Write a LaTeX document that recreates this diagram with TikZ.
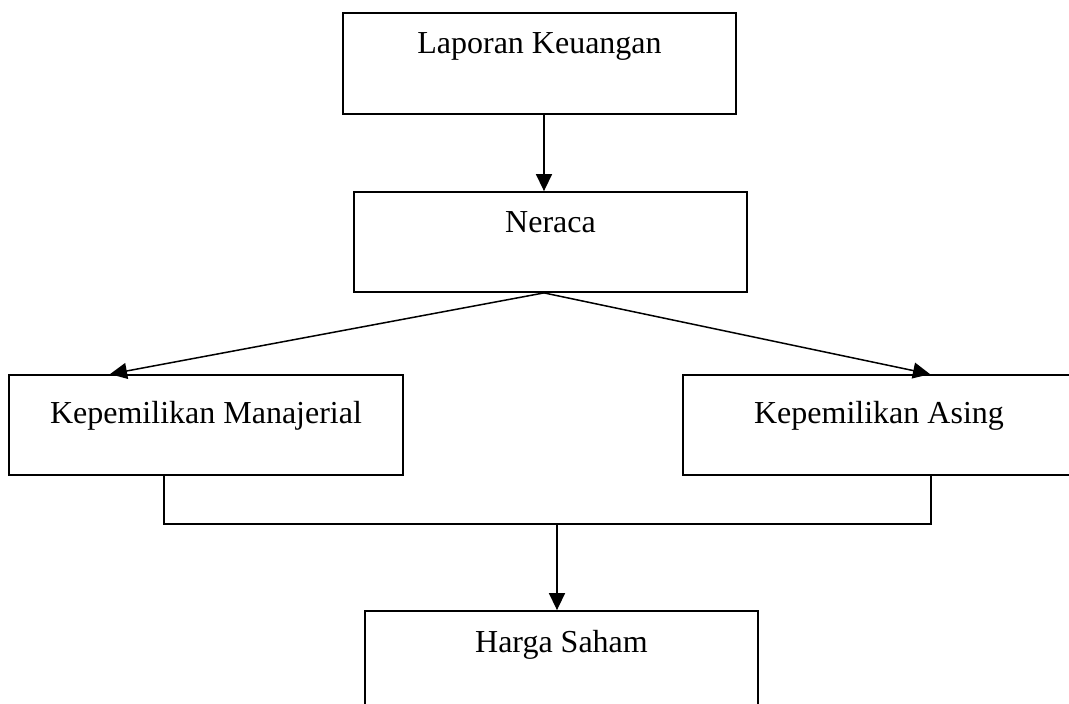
\documentclass[tikz,border=0pt]{standalone}
\usepackage{fontspec}
\setmainfont{Liberation Serif}
\usetikzlibrary{arrows.meta}
\begin{document}
\begin{tikzpicture}[x=1pt,y=-1pt,
  box/.style={draw=black, line width=1.8pt, rectangle, inner sep=0pt},
  txt/.style={anchor=base, inner sep=0pt, font=\fontsize{32}{38}\selectfont},
  conn/.style={draw=black, line width=1.5pt},
  arr/.style={conn, -{Triangle[length=17pt,width=16pt]}}]
\useasboundingbox (0,0) rectangle (1069,704);
\clip (0,0) rectangle (1069,704);
\node[box, minimum width=393pt, minimum height=101pt] (b1) at (539.5,63.5) {};
\node[box, minimum width=393pt, minimum height=100pt] (b2) at (550.5,242) {};
\node[box, minimum width=394pt, minimum height=100pt] (b3) at (206,425) {};
\node[box, minimum width=392pt, minimum height=100pt] (b4) at (879,425) {};
\node[box, minimum width=393pt, minimum height=101pt] (b5) at (561.5,661.5) {};
\node[txt] (t1) at (539.5,53) {Laporan Keuangan};
\node[txt] (t2) at (550.5,232) {Neraca};
\node[txt] (t3) at (206,423) {Kepemilikan Manajerial};
\node[txt] (t4) at (879,423) {Kepemilikan Asing};
\node[txt] (t5) at (561.5,652) {Harga Saham};
\coordinate (xa) at (544,0);
\coordinate (xl) at (110,0);
\coordinate (xr) at (930,0);
\coordinate (xcl) at (164,0);
\coordinate (xcr) at (931,0);
\coordinate (xd) at (557,0);
\coordinate (jl) at (164,524);
\coordinate (jr) at (931,524);
\coordinate (jm) at (557,524);
\draw[arr] (b1.south -| xa) -- (b2.north -| xa);
\draw[arr] (b2.south -| xa) -- (b3.north -| xl);
\draw[arr] (b2.south -| xa) -- (b4.north -| xr);
\draw[conn] (b3.south -| xcl) -- (jl) -- (jr) -- (b4.south -| xcr);
\draw[arr] (jm) -- (b5.north -| xd);
\end{tikzpicture}
\end{document}
